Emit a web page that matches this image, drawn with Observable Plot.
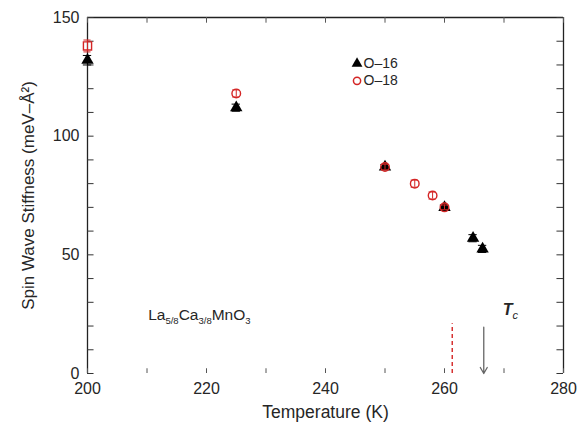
<!DOCTYPE html>
<html>
<head>
<meta charset="utf-8">
<script src="https://cdn.jsdelivr.net/npm/d3@7"></script>
<script src="https://cdn.jsdelivr.net/npm/@observablehq/plot@0.6"></script>
<style>
  body { margin: 0; background: #fff; }
  #chart { width: 580px; height: 423px; }
</style>
</head>
<body>
<div id="chart"></div>
<script>
// O-16 series (black filled triangles)
const o16T = [200, 225, 250, 260, 264.8, 266.4];
const o16S = [132, 112, 87, 70, 57, 52.5];
const o16E = [2, 1.5, 1, 1, 1.5, 1.5];
// O-18 series (red open circles; first point drawn as square)
const o18T = [200, 225, 250, 255, 258, 260];
const o18S = [138, 118, 87, 80, 75, 70];
const o18E = [2.5, 1.5, 1.2, 1.5, 1.5, 1];
// tick values
const xLabels = [200, 220, 240, 260, 280];
const xTicks = [200, 210, 220, 230, 240, 250, 260, 270, 280];
const yLabels = [0, 50, 100, 150];
const yTicks = [0, 10, 20, 30, 40, 50, 60, 70, 80, 90, 100, 110, 120, 130, 140, 150];
// annotations
const tcArrow = {x: 266.6, yTop: 19.5, yBottom: 0};
const dashedT = {x: 261.3, yTop: 21, yBottom: 0};
const xTitle = "Temperature (K)";
const yTitle = "Spin Wave Stiffness (meV\u2013\u00C5\u00B2)";

const o16 = o16T.map((t, i) => ({t, s: o16S[i], e: o16E[i]}));
const o18 = o18T.map((t, i) => ({t, s: o18S[i], e: o18E[i]}));
const RED = "#d42525";
const INK = "#262626";

const chart = Plot.plot({
  width: 580,
  height: 423,
  marginLeft: 87,
  marginRight: 17,
  marginTop: 17,
  marginBottom: 50,
  style: {fontFamily: "'Liberation Sans', Arial, sans-serif", fontSize: "16px", color: INK, background: "#fff"},
  x: {domain: [200, 280]},
  y: {domain: [0, 150]},
  marks: [
    // frame: left, top, right
    Plot.ruleX([200, 280], {y1: 0, y2: 150, stroke: "#222", strokeWidth: 1.3}),
    Plot.ruleY([150], {x1: 200, x2: 280, stroke: "#222", strokeWidth: 1.3}),
    // inward ticks
    Plot.ruleY(yTicks, {x1: 200, x2: 201.1, stroke: "#333"}),
    Plot.ruleY(yTicks, {x1: 278.9, x2: 280, stroke: "#333"}),
    Plot.ruleX(xTicks, {y1: 150, y2: 147.6, stroke: "#555"}),
    Plot.ruleX(xTicks, {y1: 0, y2: 2, stroke: "#555"}),
    Plot.axisY({ticks: yLabels, tickSize: 0, tickPadding: 8, label: null, fontSize: 16}),
    Plot.axisX({ticks: xLabels, tickSize: 0, tickPadding: 9, label: null, fontSize: 16}),
    Plot.text([yTitle], {frameAnchor: "left", dx: -59, rotate: -90, textAnchor: "middle", lineAnchor: "middle", fontSize: 17, fill: INK}),
    Plot.text([xTitle], {frameAnchor: "bottom", dy: 39, textAnchor: "middle", lineAnchor: "middle", fontSize: 17.5, fill: INK}),
    // O-16 error bars and points
    Plot.ruleX(o16, {x: "t", y1: d => d.s - d.e, y2: d => d.s + d.e, stroke: "#000"}),
    Plot.ruleY(o16, {y: d => d.s + d.e, x1: d => d.t - 0.7, x2: d => d.t + 0.7, stroke: "#000"}),
    Plot.ruleY(o16, {y: d => d.s - d.e, x1: d => d.t - 0.7, x2: d => d.t + 0.7, stroke: "#000"}),
    Plot.dot(o16, {x: "t", y: "s", symbol: "triangle", fill: "#000", r: 4.6}),
    // O-18 error bars and points
    Plot.ruleX(o18, {x: "t", y1: d => d.s - d.e, y2: d => d.s + d.e, stroke: RED}),
    Plot.ruleY(o18, {y: d => d.s + d.e, x1: d => d.t - 0.6, x2: d => d.t + 0.6, stroke: RED}),
    Plot.ruleY(o18, {y: d => d.s - d.e, x1: d => d.t - 0.6, x2: d => d.t + 0.6, stroke: RED}),
    Plot.dot(o18.slice(1), {x: "t", y: "s", symbol: "circle", stroke: RED, fill: "none", r: 4.3, strokeWidth: 1.4}),
    Plot.dot(o18.slice(0, 1), {x: "t", y: "s", symbol: "square", stroke: RED, fill: "none", r: 4.6, strokeWidth: 1.4}),
    // legend
    Plot.dot([{x: 245.3, y: 130.6}], {x: "x", y: "y", symbol: "triangle", fill: "#000", r: 4}),
    Plot.dot([{x: 245.3, y: 123.3}], {x: "x", y: "y", symbol: "circle", stroke: RED, fill: "none", r: 3.6}),
    Plot.text([{x: 246.4, y: 130.6, t: "O\u201316"}, {x: 246.4, y: 123.3, t: "O\u201318"}], {x: "x", y: "y", text: "t", textAnchor: "start", fontSize: 14, fill: INK}),
    // compound label
    Plot.text([{x: 210.2, y: 24.6, t: "La5/8Ca3/8MnO3"}], {x: "x", y: "y", text: "t", textAnchor: "start", fontSize: 15.5, fill: INK}),
    // Tc label
    Plot.text([{x: 269.8, y: 26.8, t: "Tc"}], {x: "x", y: "y", text: "t", textAnchor: "start", fontSize: 16, fontStyle: "italic", fontWeight: "bold", fill: INK}),
    // red dashed line
    Plot.ruleX([dashedT], {x: "x", y1: "yBottom", y2: "yTop", stroke: RED, strokeDasharray: "4,3", strokeWidth: 1.4}),
    // Tc arrow
    Plot.arrow([tcArrow], {x1: "x", y1: "yTop", x2: "x", y2: "yBottom", stroke: "#666", strokeWidth: 1.3, headLength: 8})
  ]
});

// subscripts for the formula and Tc
chart.querySelectorAll("text").forEach(el => {
  const txt = el.textContent;
  if (txt === "La5/8Ca3/8MnO3") {
    el.textContent = "";
    const parts = [["La", false], ["5/8", true], ["Ca", false], ["3/8", true], ["MnO", false], ["3", true]];
    parts.forEach(([p, sub]) => {
      const ts = document.createElementNS("http://www.w3.org/2000/svg", "tspan");
      ts.textContent = p;
      if (sub) { ts.setAttribute("font-size", "9.5"); ts.setAttribute("dy", "4"); }
      else { ts.setAttribute("dy", el.querySelector("tspan") ? "-4" : "0"); }
      el.appendChild(ts);
    });
  } else if (txt === "Tc") {
    el.textContent = "";
    const t1 = document.createElementNS("http://www.w3.org/2000/svg", "tspan");
    t1.textContent = "T";
    const t2 = document.createElementNS("http://www.w3.org/2000/svg", "tspan");
    t2.textContent = "c"; t2.setAttribute("font-size", "11"); t2.setAttribute("dy", "4"); t2.setAttribute("font-weight", "normal");
    el.appendChild(t1); el.appendChild(t2);
  }
});

document.getElementById("chart").appendChild(chart);
</script>
</body>
</html>
